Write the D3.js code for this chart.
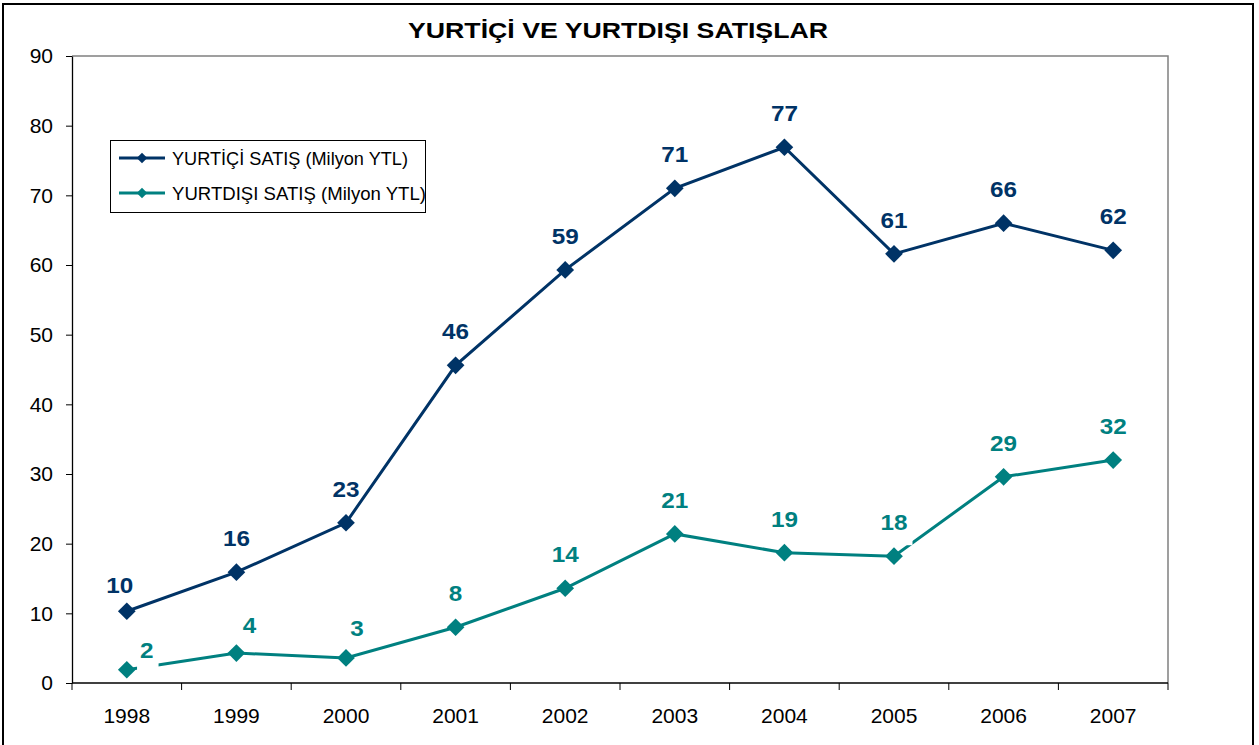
<!DOCTYPE html>
<html>
<head>
<meta charset="utf-8">
<script src="https://cdn.jsdelivr.net/npm/d3@7"></script>
<style>
  body { margin: 0; background: #fff; }
  svg { display: block; font-family: "Liberation Sans", Arial, sans-serif; }
</style>
</head>
<body>
<script>
const years = ["1998", "1999", "2000", "2001", "2002", "2003", "2004", "2005", "2006", "2007"];
const domestic = [10.3, 15.9, 23.0, 45.6, 59.3, 71.0, 76.9, 61.6, 66.0, 62.1];
const exportSales = [1.9, 4.3, 3.6, 8.0, 13.6, 21.4, 18.7, 18.2, 29.6, 32.0];
const domesticLabels = ["10", "16", "23", "46", "59", "71", "77", "61", "66", "62"];
const exportLabels = ["2", "4", "3", "8", "14", "21", "19", "18", "29", "32"];
const yTicks = [0, 10, 20, 30, 40, 50, 60, 70, 80, 90];
const title = "YURTİÇİ VE YURTDIŞI SATIŞLAR";
const seriesNames = ["YURTİÇİ SATIŞ (Milyon YTL)", "YURTDIŞI SATIŞ (Milyon YTL)"];

// label nudges (px) where the labels were moved by hand
const domesticNudge = { 0: [-7, 8] };
const exportNudge = { 0: [20, 14], 1: [13, 6], 2: [11, 4] };
// labels whose white box hides part of the line
const exportMasked = [0, 7];

const width = 1259;
const height = 745;
const margin = { top: 56, right: 91, bottom: 62, left: 72 };
const navy = "#003366";
const teal = "#008080";

const svg = d3.select("body").append("svg")
  .attr("width", width)
  .attr("height", height);

// outer chart border
svg.append("rect")
  .attr("x", 3).attr("y", 4)
  .attr("width", 1250).attr("height", 780)
  .attr("fill", "none")
  .attr("stroke", "#000")
  .attr("stroke-width", 2);

svg.append("text")
  .attr("x", 618).attr("y", 38)
  .attr("text-anchor", "middle")
  .attr("font-size", 22)
  .attr("font-weight", "bold")
  .attr("textLength", 420)
  .attr("lengthAdjust", "spacingAndGlyphs")
  .text(title);

const x = d3.scaleBand()
  .domain(years)
  .range([margin.left, width - margin.right]);

const y = d3.scaleLinear()
  .domain([0, 90])
  .range([height - margin.bottom, margin.top]);

const cx = (d) => x(d) + x.bandwidth() / 2;

// plot area frame: grey top/right
svg.append("path")
  .attr("d", `M${x.range()[0]},${y(90)}H${x.range()[1]}V${y(0)}`)
  .attr("fill", "none")
  .attr("stroke", "#808080")
  .attr("stroke-width", 1.5);

// y axis
const yAxis = svg.append("g")
  .attr("transform", `translate(${margin.left},0)`)
  .call(d3.axisLeft(y).tickValues(yTicks).tickSize(6).tickPadding(13).tickSizeOuter(0));
yAxis.select(".domain").attr("stroke", "#000").attr("stroke-width", 1.3);
yAxis.selectAll("line").attr("stroke", "#000");
yAxis.selectAll("text")
  .attr("font-size", 21)
  .attr("font-family", "Liberation Sans, Arial, sans-serif")
  .attr("fill", "#000");

// x axis, ticks on category boundaries
const xAxis = svg.append("g")
  .attr("transform", `translate(0,${y(0)})`);
xAxis.append("line")
  .attr("x1", x.range()[0]).attr("x2", x.range()[1])
  .attr("stroke", "#000").attr("stroke-width", 1.3);
xAxis.selectAll("line.tick")
  .data(years.concat(["end"]))
  .join("line")
  .attr("class", "tick")
  .attr("x1", (d) => d === "end" ? x.range()[1] : x(d))
  .attr("x2", (d) => d === "end" ? x.range()[1] : x(d))
  .attr("y1", 0).attr("y2", 7)
  .attr("stroke", "#000");
xAxis.selectAll("text")
  .data(years)
  .join("text")
  .attr("x", cx)
  .attr("y", 40)
  .attr("text-anchor", "middle")
  .attr("font-size", 21)
  .text((d) => d);

const line = d3.line()
  .x((d, i) => cx(years[i]))
  .y((d) => y(d));

const diamond = d3.symbol().type(d3.symbolDiamond2).size(200);

const drawSeries = (values, labels, color, nudge, masked) => {
  const g = svg.append("g");
  g.append("path")
    .datum(values)
    .attr("d", line)
    .attr("fill", "none")
    .attr("stroke", color)
    .attr("stroke-width", 3);

  const lab = g.append("g");
  const texts = lab.selectAll("text")
    .data(values)
    .join("text")
    .attr("x", (d, i) => cx(years[i]) + (nudge[i] ? nudge[i][0] : 0))
    .attr("y", (d, i) => y(d) - 26 + (nudge[i] ? nudge[i][1] : 0))
    .attr("text-anchor", "middle")
    .attr("font-size", 22)
    .attr("font-weight", "bold")
    .attr("fill", color)
    .attr("textLength", (d, i) => labels[i].length * 13.5)
    .attr("lengthAdjust", "spacingAndGlyphs")
    .text((d, i) => labels[i]);

  texts.filter((d, i) => masked.includes(i)).each(function () {
    const b = this.getBBox();
    lab.insert("rect", "text")
      .attr("x", b.x - 3).attr("y", b.y - 2)
      .attr("width", b.width + 8).attr("height", b.height + 12)
      .attr("fill", "#fff");
  });

  g.selectAll("path.marker")
    .data(values)
    .join("path")
    .attr("class", "marker")
    .attr("d", diamond)
    .attr("transform", (d, i) => `translate(${cx(years[i])},${y(d)})`)
    .attr("fill", color);
};

drawSeries(domestic, domesticLabels, navy, domesticNudge, []);
drawSeries(exportSales, exportLabels, teal, exportNudge, exportMasked);

// legend
const legend = svg.append("g");
legend.append("rect")
  .attr("x", 110.5).attr("y", 140.5)
  .attr("width", 315).attr("height", 72)
  .attr("fill", "#fff")
  .attr("stroke", "#000");

const legendItems = [
  { name: seriesNames[0], color: navy },
  { name: seriesNames[1], color: teal },
];
const row = legend.selectAll("g.item")
  .data(legendItems)
  .join("g")
  .attr("class", "item")
  .attr("transform", (d, i) => `translate(0,${158 + i * 35})`);
row.append("line")
  .attr("x1", 119).attr("x2", 165)
  .attr("stroke", (d) => d.color)
  .attr("stroke-width", 3);
row.append("path")
  .attr("d", d3.symbol().type(d3.symbolDiamond2).size(70))
  .attr("transform", "translate(142,0)")
  .attr("fill", (d) => d.color);
row.append("text")
  .attr("x", 172)
  .attr("y", 7)
  .attr("font-size", 19)
  .attr("fill", "#000")
  .attr("textLength", (d, i) => i === 0 ? 236 : 254)
  .attr("lengthAdjust", "spacingAndGlyphs")
  .text((d) => d.name);
</script>
</body>
</html>
